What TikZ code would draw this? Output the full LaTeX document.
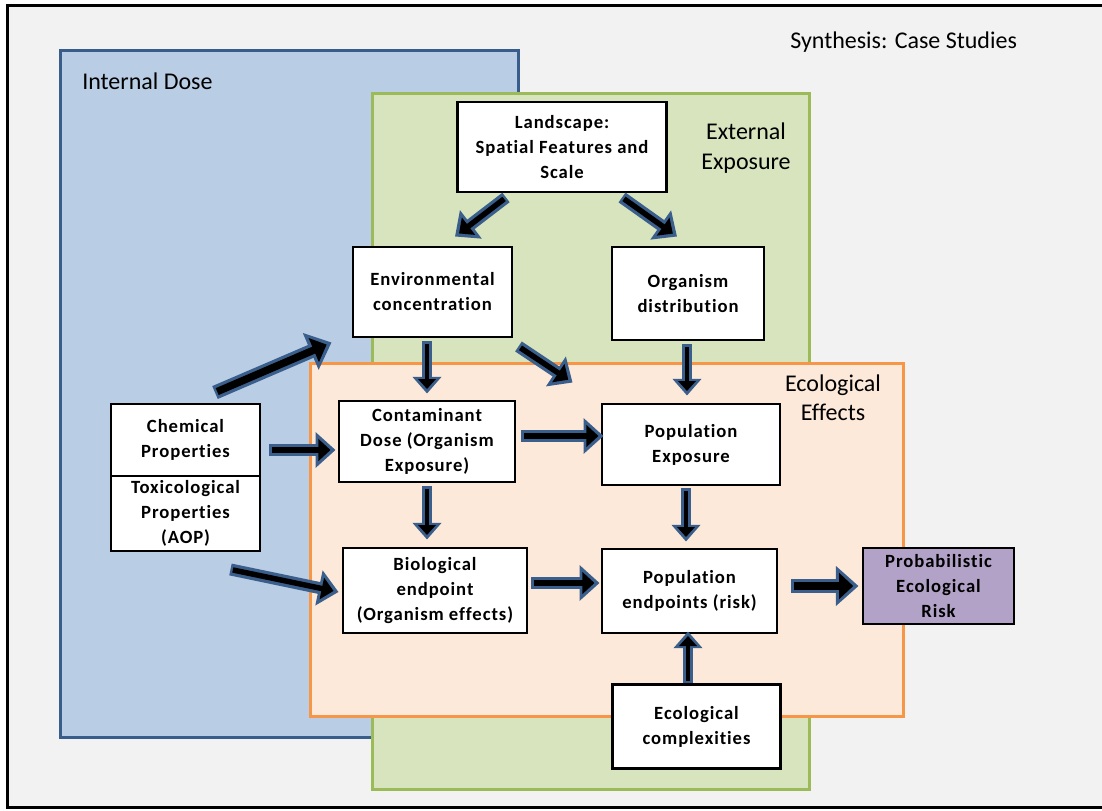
\documentclass[tikz,border=0pt]{standalone}
\usepackage{fontspec}
\setmainfont[Ligatures=NoCommon]{Carlito}
\newfontfamily\boxface[LetterSpace=5,Ligatures=NoCommon]{Carlito}
\usetikzlibrary{arrows.meta,calc}

\definecolor{pagegray}{HTML}{F2F2F2}
\definecolor{dosefill}{HTML}{B9CDE5}
\definecolor{doseline}{HTML}{385D8A}
\definecolor{expfill}{HTML}{D7E4BD}
\definecolor{expline}{HTML}{9BBB59}
\definecolor{efffill}{HTML}{FDE9D9}
\definecolor{effline}{HTML}{F79646}
\definecolor{riskfill}{HTML}{B3A2C7}
\definecolor{arrowblue}{HTML}{3B5F8C}

\tikzset{
  region/.style={line width=2.25pt},
  regionlabel/.style={font=\fontsize{18}{22.5}\selectfont, inner sep=0pt, align=center},
  box/.style={draw=black, line width=2.2pt, fill=white, inner sep=0pt, align=center,
    font={\boxface\bfseries\fontsize{14}{18.75}\selectfont}},
  sz/.style 2 args={minimum width=#1*0.75pt, minimum height=#2*0.75pt},
  arrthin/.style={draw=black, line width=2.6pt, shorten <=1.8pt, shorten >=3.4pt,
    -{Triangle[length=7.5pt,width=13pt]},
    preaction={draw=arrowblue, line width=7.5pt, shorten <=0pt, shorten >=0pt,
      -{Triangle[length=12.5pt,width=21pt]}}},
  arrmid/.style={draw=black, line width=4.1pt, shorten <=1.8pt, shorten >=3.8pt,
    -{Triangle[length=9pt,width=16pt]},
    preaction={draw=arrowblue, line width=9pt, shorten <=0pt, shorten >=0pt,
      -{Triangle[length=15pt,width=26pt]}}},
  arrthick/.style={draw=black, line width=5.6pt, shorten <=1.8pt, shorten >=4pt,
    -{Triangle[length=10.5pt,width=19pt]},
    preaction={draw=arrowblue, line width=10.5pt, shorten <=0pt, shorten >=0pt,
      -{Triangle[length=17pt,width=29pt]}}}
}

\begin{document}
\begin{tikzpicture}[x=0.75pt,y=-0.75pt]
  \useasboundingbox (0,0) rectangle (1102,810);
  \clip (0,0) rectangle (1102,810);

  % page frame
  \fill[white] (0,0) rectangle (1102,810);
  \draw[line width=2.25pt, fill=pagegray] (7.5,5.5) rectangle (1112,807.5);

  % overlapping regions
  \draw[region, draw=doseline, fill=dosefill] (60,50) rectangle (518,737);
  \draw[region, draw=expline, fill=expfill] (372,93) rectangle (809,789);
  \draw[region, draw=effline, fill=efffill] (310,363) rectangle (903,716);

  % region titles
  \node[regionlabel, anchor=base west] (syn) at (790,48) {Synthesis: Case Studies};
  \node[regionlabel, anchor=base west] (intd) at (82,89) {Internal Dose};
  \node[regionlabel] (ext) at (746,148) {External\\Exposure};
  \node[regionlabel, font=\fontsize{18}{21.75}\selectfont] (eco) at (833,397.5) {Ecological\\Effects};

  % boxes
  \node[box, sz={209}{90}] (land) at (562,147) {Landscape:\\Spatial Features and\\Scale};
  \node[box, sz={159}{90}] (env) at (432.5,292) {Environmental\\concentration};
  \node[box, sz={152}{93}] (org) at (688,293.5) {Organism\\distribution};
  \node[box, sz={149}{72}] (chem) at (185.5,440) {Chemical\\Properties};
  \node[box, sz={149}{75}] (tox) at (185.5,513.5) {Toxicological\\Properties\\(AOP)};
  \node[box, sz={176}{81}] (cont) at (427,441.5) {Contaminant\\Dose (Organism\\Exposure)};
  \node[box, sz={178}{81}] (popx) at (691,444.5) {Population\\Exposure};
  \node[box, sz={184}{85}] (bio) at (435,590.5) {Biological\\endpoint\\(Organism effects)};
  \node[box, sz={175}{84}] (pope) at (689.5,591) {Population\\endpoints (risk)};
  \node[box, sz={151}{76}, fill=riskfill] (risk) at (938.5,586) {Probabilistic\\Ecological\\Risk};
  \node[box, sz={168}{84}] (ecx) at (696.5,726.5) {Ecological\\complexities};

  % connectors
  \draw[arrmid] ($(land.south)+(-56,4)$) -- ($(env.north)+(22.5,-9)$);
  \draw[arrmid] ($(land.south)+(60,4)$) -- ($(org.north)+(-11,-9)$);
  \draw[arrthick] ($(chem.north)+(29.5,-10)$) -- ($(env.south west)+(-20,4)$);
  \draw[arrthin] ($(env.south -| cont.north)+(0,3)$) -- ($(cont.north)+(0,-6)$);
  \draw[arrmid] ($(env.south east)+(5,8)$) -- ($(popx.north west)+(-28,-20)$);
  \draw[arrthin] ($(org.south)+(-1,3)$) -- ($(popx.north)+(-4,-7)$);
  \draw[arrmid] ($(chem.east)+(8,10)$) -- ($(cont.west)+(-2,8.5)$);
  \draw[arrmid] ($(cont.east)+(5,-5.5)$) -- ($(popx.west)+(3,-8.5)$);
  \draw[arrthin] ($(cont.south)+(0,3)$) -- ($(bio.north)+(-8,-7)$);
  \draw[arrthin] ($(popx.south)+(-5,2)$) -- ($(pope.north)+(-3.5,-6)$);
  \draw[arrmid] ($(tox.south east)+(-31,17)$) -- ($(bio.west)+(-3,1.5)$);
  \draw[arrmid] ($(bio.east)+(3,-7.5)$) -- ($(pope.west)+(-1,-8)$);
  \draw[arrthick] ($(pope.east)+(13,-5)$) -- ($(risk.west)+(-3,0)$);
  \draw[arrthin] ($(ecx.north)+(-8.5,0)$) -- ($(pope.south)+(-1.5,-3)$);
\end{tikzpicture}
\end{document}
